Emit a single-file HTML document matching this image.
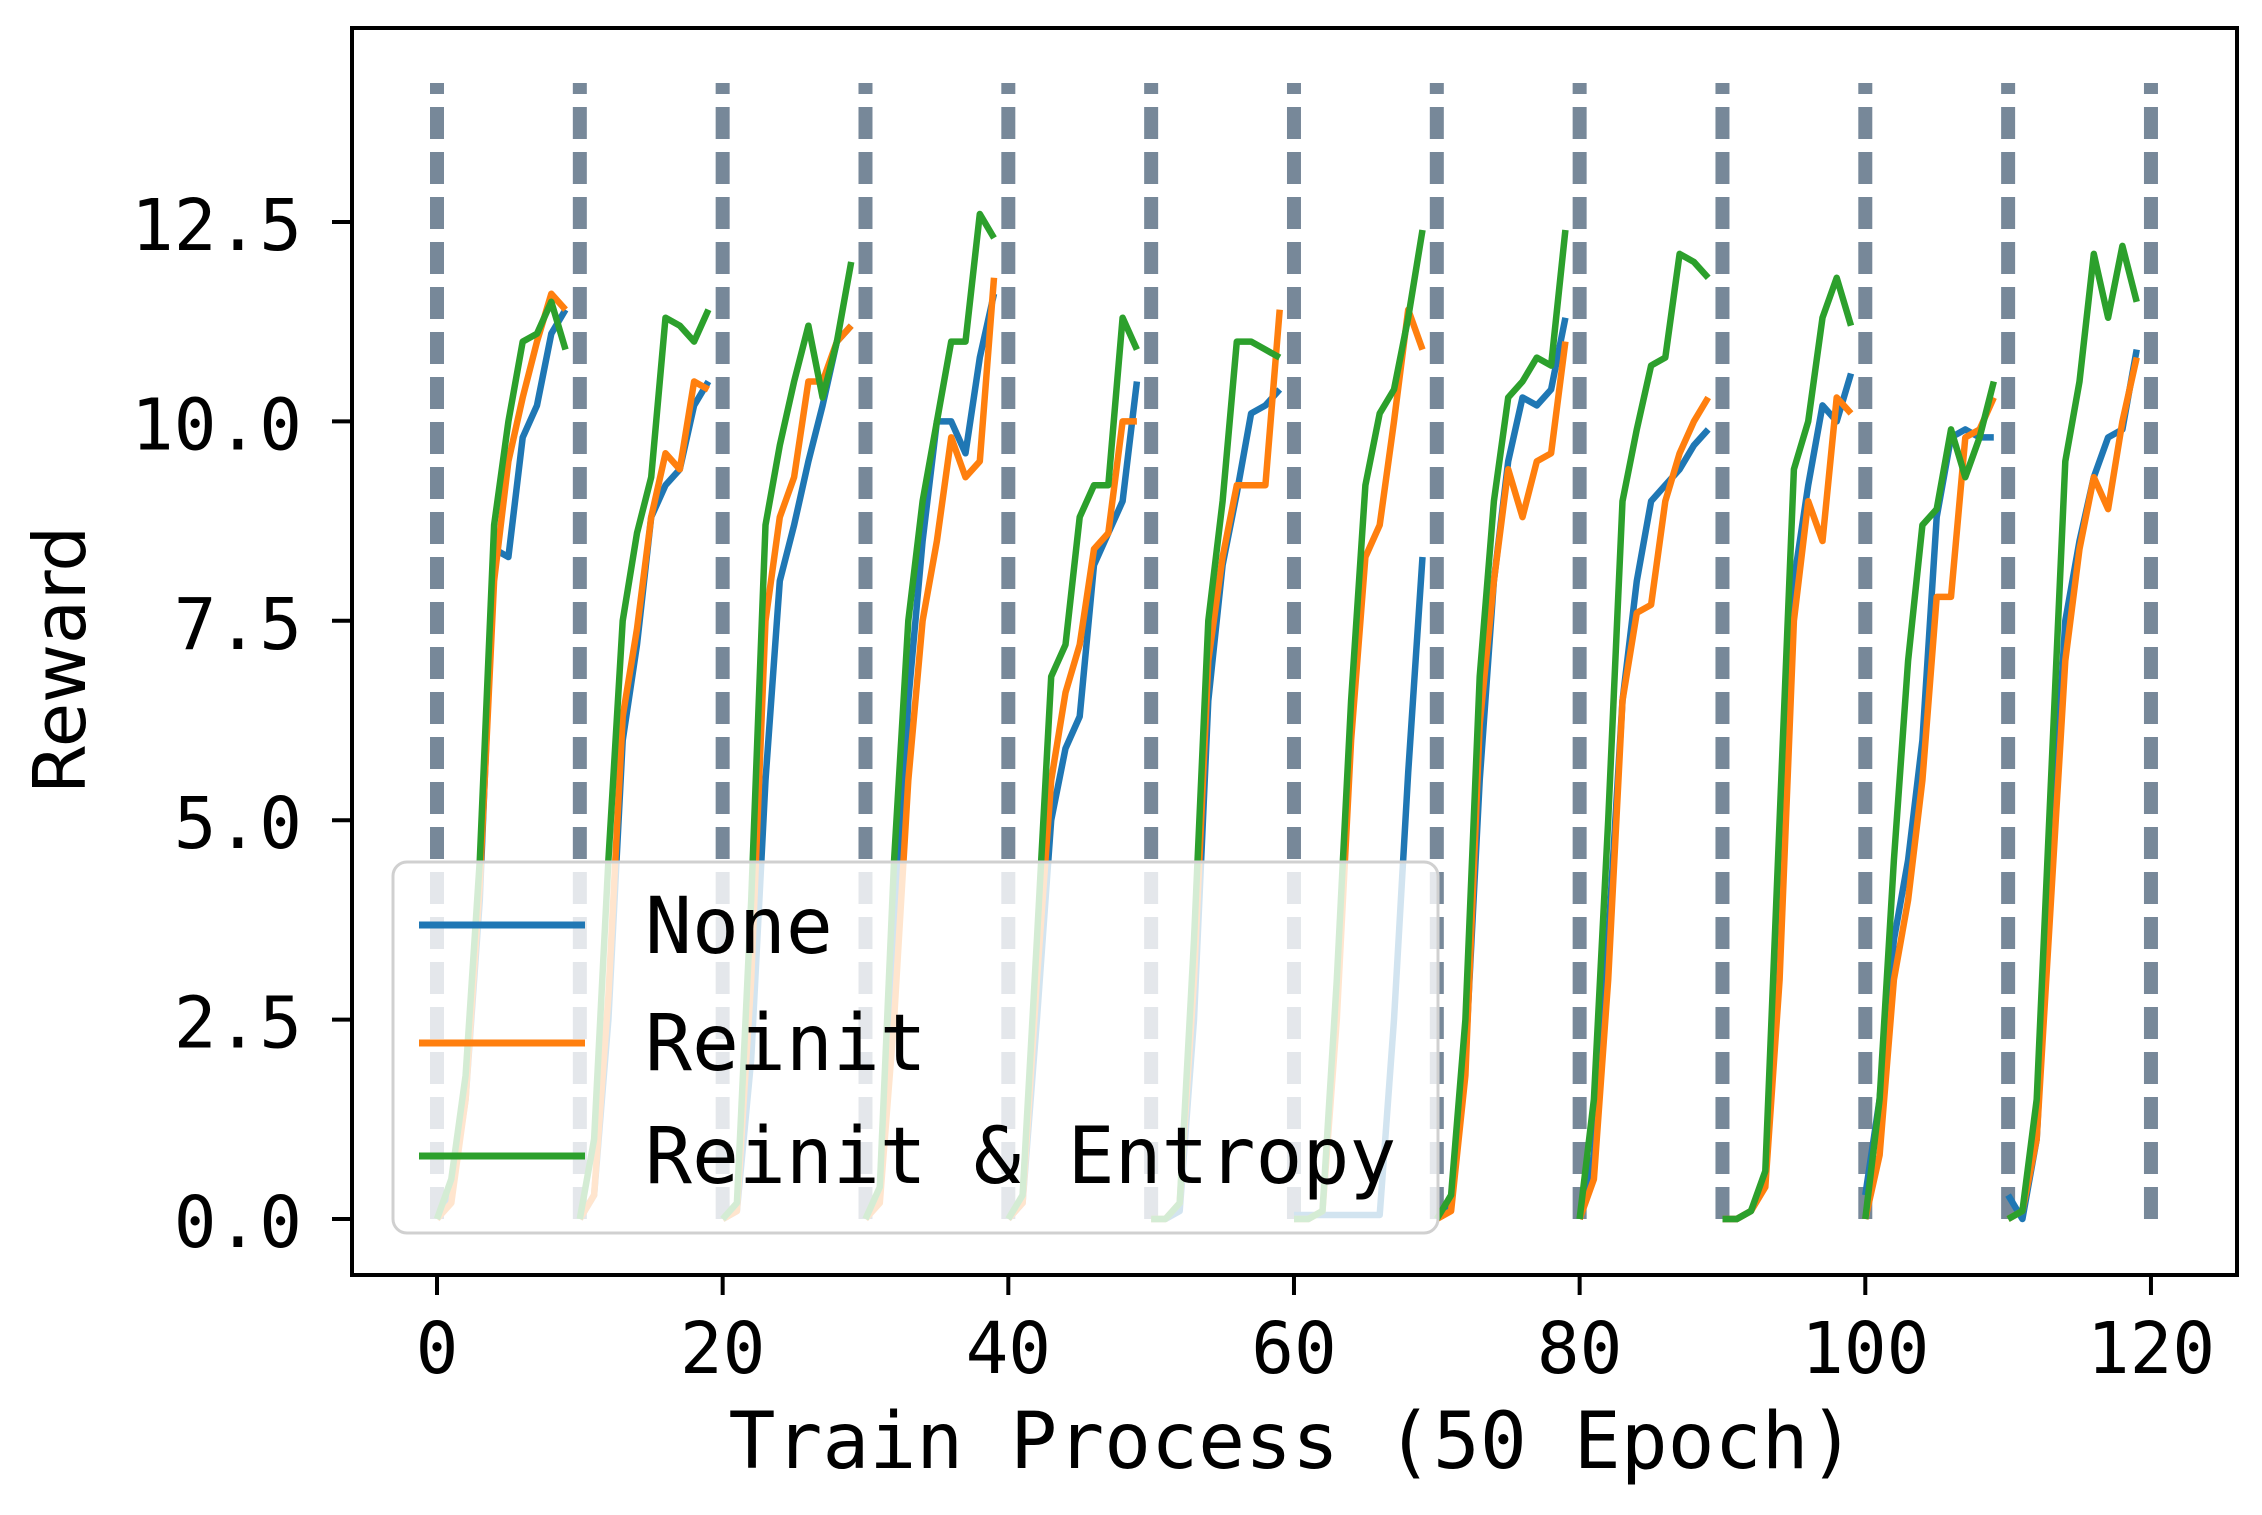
<!DOCTYPE html>
<html><head><meta charset="utf-8"><style>
html,body{margin:0;padding:0;background:#fff;}
svg{display:block;}
</style></head><body>
<svg id="s" width="2262" height="1515" viewBox="0 0 2262 1515" xmlns="http://www.w3.org/2000/svg">
<defs><clipPath id="c"><rect x="352" y="28" width="1885" height="1247"/></clipPath></defs>
<rect width="2262" height="1515" fill="#fff"/>
<g id="vl" stroke="#778899" stroke-width="14" stroke-dasharray="32 13"></g>
<g id="ln" clip-path="url(#c)" fill="none" stroke-width="6.5" stroke-linejoin="round" stroke-linecap="butt"></g>
<g>
<rect x="393" y="862" width="1045" height="371" rx="14" fill="#fff" fill-opacity="0.8" stroke="#d0d0d0" stroke-width="3"/>
<line x1="419" y1="925" x2="585" y2="925" stroke="#1f77b4" stroke-width="7"/>
<line x1="419" y1="1043" x2="585" y2="1043" stroke="#ff7f0e" stroke-width="7"/>
<line x1="419" y1="1156" x2="585" y2="1156" stroke="#2ca02c" stroke-width="7"/>
<g font-family="'DejaVu Sans Mono','Liberation Mono',monospace" font-size="78" fill="#000">
<text x="645" y="953">None</text>
<text x="645" y="1070">Reinit</text>
<text x="645" y="1183">Reinit &amp; Entropy</text>
</g>
</g>
<rect x="352" y="28" width="1885" height="1247" fill="none" stroke="#000" stroke-width="4"/>
<g id="tk" stroke="#000" stroke-width="4"></g>
<g id="tl" font-family="'DejaVu Sans Mono','Liberation Mono',monospace" font-size="71" fill="#000"></g>
<text x="1292" y="1468" text-anchor="middle" font-family="'DejaVu Sans Mono','Liberation Mono',monospace" font-size="78">Train Process (50 Epoch)</text>
<text transform="translate(85,660) rotate(-90)" text-anchor="middle" font-family="'DejaVu Sans','Liberation Sans',sans-serif" font-size="72">Reward</text>
</svg>
<script>
const NS="http://www.w3.org/2000/svg";
const X=e=>437+14.283*e, Y=v=>1219-79.76*v;
function el(p,t,a,txt){const n=document.createElementNS(NS,t);for(const k in a)n.setAttribute(k,a[k]);if(txt!==undefined)n.textContent=txt;document.getElementById(p).appendChild(n);}
for(let i=0;i<=120;i+=10){el('vl','line',{x1:X(i),x2:X(i),y1:1219,y2:83});}
const B=[[0,0.3,1.5,4,8.4,8.3,9.8,10.2,11.1,11.4],[0,0.3,2.5,6,7.2,8.8,9.2,9.4,10.2,10.5],[0,0.1,2,5.5,8,8.7,9.5,10.2,11,11.2],[0,0.3,3,6.5,8.5,10,10,9.6,10.8,11.6],[0,0.2,2.5,5,5.9,6.3,8.2,8.6,9,10.5],[0,0,0.1,2.5,6.5,8.2,9.1,10.1,10.2,10.4],[0.05,0.05,0.05,0.05,0.05,0.05,0.05,2.5,5.6,8.3],[0,0.2,2,5.5,8,9.5,10.3,10.2,10.4,11.3],[0,0.8,3.5,6.5,8,9,9.2,9.4,9.7,9.9],[0,0,0.1,0.5,4,8,9.2,10.2,10,10.6],[0.3,1.5,3.5,4.5,6,8.8,9.8,9.9,9.8,9.8],[0.3,0,1,4.5,7.5,8.5,9.3,9.8,9.9,10.9]];
const O=[[0,0.2,1.5,4.2,8,9.5,10.3,11,11.6,11.4],[0,0.3,2.8,6.3,7.4,8.8,9.6,9.4,10.5,10.4],[0,0.1,3,7.5,8.8,9.3,10.5,10.5,11,11.2],[0,0.2,2.5,5.5,7.5,8.5,9.8,9.3,9.5,11.8],[0,0.2,3,5.5,6.6,7.2,8.4,8.6,10,10],[0,0,0.2,3,7,8.3,9.2,9.2,9.2,11.4],[0,0,0.1,2.5,6,8.3,8.7,10,11.4,10.9],[0,0.1,1.8,6.2,8,9.4,8.8,9.5,9.6,11],[0,0.5,3,6.5,7.6,7.7,9,9.6,10,10.3],[0,0,0.1,0.4,3,7.5,9,8.5,10.3,10.1],[0,0.8,3,4,5.5,7.8,7.8,9.8,9.9,10.3],[0,0.1,1,4,7,8.4,9.3,8.9,10,10.8]];
const G=[[0,0.5,1.8,4.5,8.7,10,11,11.1,11.5,10.9],[0,1,4.5,7.5,8.6,9.3,11.3,11.2,11,11.4],[0,0.2,4,8.7,9.7,10.5,11.2,10.3,11,12],[0,0.4,4.5,7.5,9,10,11,11,12.6,12.3],[0,0.3,3.5,6.8,7.2,8.8,9.2,9.2,11.3,10.9],[0,0,0.2,3.5,7.5,9,11,11,10.9,10.8],[0,0,0.1,3,6.5,9.2,10.1,10.4,11.3,12.4],[0,0.3,2.5,6.8,9,10.3,10.5,10.8,10.7,12.4],[0,1.5,5,9,9.9,10.7,10.8,12.1,12,11.8],[0,0,0.1,0.6,5,9.4,10,11.3,11.8,11.2],[0,1.5,4.5,7,8.7,8.9,9.9,9.3,9.8,10.5],[0,0.1,1.5,5.5,9.5,10.5,12.1,11.3,12.2,11.5]];
function draw(D,c){D.forEach((s,k)=>{el('ln','polyline',{stroke:c,points:s.map((v,i)=>X(10*k+i).toFixed(1)+','+Y(v).toFixed(1)).join(' ')});});}
draw(B,'#1f77b4');draw(O,'#ff7f0e');draw(G,'#2ca02c');
[0,2.5,5,7.5,10,12.5].forEach(v=>{el('tk','line',{x1:332,x2:352,y1:Y(v),y2:Y(v)});el('tl','text',{x:302,y:Y(v)+28,'text-anchor':'end'},v.toFixed(1));});
for(let i=0;i<=120;i+=20){el('tk','line',{x1:X(i),x2:X(i),y1:1275,y2:1295});el('tl','text',{x:X(i),y:1373,'text-anchor':'middle'},String(i));}
</script>
</body></html>
